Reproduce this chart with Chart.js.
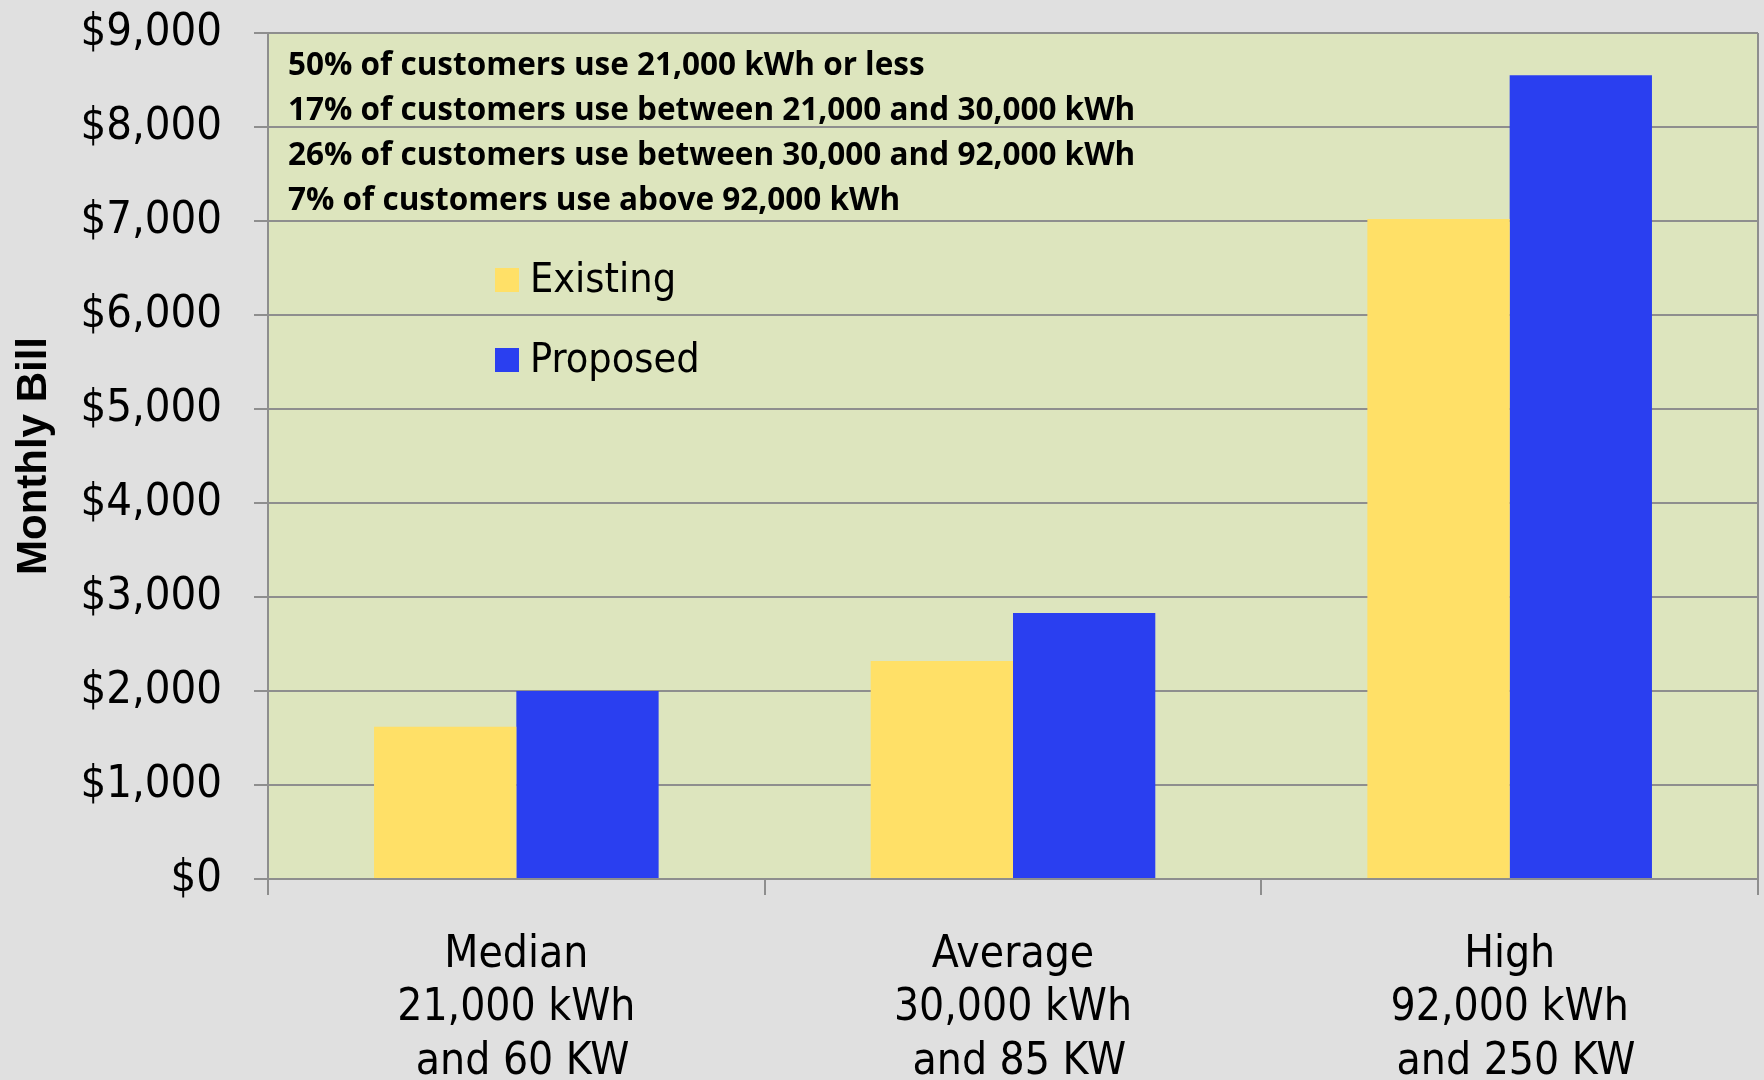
<!DOCTYPE html>
<html>
<head>
<meta charset="utf-8">
<script src="https://cdn.jsdelivr.net/npm/chart.js@4"></script>
<style>
  html, body { margin: 0; padding: 0; background: #e0e0e0; }
  #wrap { width: 1764px; height: 1080px; }
</style>
</head>
<body>
<div id="wrap"><canvas id="bill-chart" width="1764" height="1080"></canvas></div>
<script>
// Chart data
const categories = [
    ["Median", "21,000 kWh", " and 60 KW"],
    ["Average", "30,000 kWh", " and 85 KW"],
    ["High", "92,000 kWh", " and 250 KW"]
];
const existing = [1620, 2320, 7020];
const proposed = [2000, 2830, 8550];
const seriesNames = ["Existing", "Proposed"];
const notes = [
    "50% of customers use 21,000 kWh or less",
    "17% of customers use between 21,000 and 30,000 kWh",
    "26% of customers use between 30,000 and 92,000 kWh",
    "7% of customers use above 92,000 kWh"
];

const gridColor = "#8e8e8e";
const tickFont = "'DejaVu Sans Condensed', 'DejaVu Sans', sans-serif";

// Page + plot area background, right border
const plotBackground = {
    id: "plotBackground",
    beforeDraw(chart) {
        const { ctx, chartArea: a } = chart;
        ctx.save();
        ctx.fillStyle = "#e0e0e0";
        ctx.fillRect(0, 0, chart.width, chart.height);
        ctx.fillStyle = "#dde5be";
        ctx.fillRect(a.left, a.top, a.right - a.left, a.bottom - a.top);
        ctx.restore();
    },
    afterDraw(chart) {
        const { ctx, chartArea: a } = chart;
        ctx.save();
        ctx.strokeStyle = gridColor;
        ctx.lineWidth = 2;
        ctx.beginPath();
        ctx.moveTo(a.right, a.top);
        ctx.lineTo(a.right, a.bottom + 16);
        ctx.stroke();
        ctx.restore();
    }
};

// Notes text and legend inside the plot
const notesAndLegend = {
    id: "notesAndLegend",
    afterDatasetsDraw(chart) {
        const { ctx } = chart;
        ctx.save();
        ctx.fillStyle = "#000";
        ctx.textBaseline = "middle";
        ctx.font = "bold 31.5px 'Open Sans', sans-serif";
        notes.forEach((line, i) => {
            ctx.fillText(line, 288, 66 + i * 45);
        });

        ctx.font = "41px " + tickFont;
        chart.data.datasets.forEach((ds, i) => {
            const y = 280 + i * 80;
            ctx.fillStyle = ds.backgroundColor;
            ctx.fillRect(495, y - 12, 24, 24);
            ctx.fillStyle = "#000";
            ctx.fillText(ds.label, 530, y + 1);
        });
        ctx.restore();
    }
};

const billChart = new Chart("bill-chart", {
    type: "bar",
    data: {
        labels: categories,
        datasets: [
            {
                label: seriesNames[0],
                backgroundColor: "#ffe067",
                data: existing
            },
            {
                label: seriesNames[1],
                backgroundColor: "#2a3ff0",
                data: proposed
            }
        ]
    },
    options: {
        responsive: false,
        animation: false,
        layout: {
            padding: { top: 33, right: 6, left: 0, bottom: 0 }
        },
        datasets: {
            bar: {
                categoryPercentage: 0.573,
                barPercentage: 1.0,
                borderWidth: 0
            }
        },
        scales: {
            x: {
                afterFit(scale) { scale.height = 201; },
                grid: {
                    offset: true,
                    drawOnChartArea: false,
                    drawTicks: true,
                    tickLength: 16,
                    color: gridColor,
                    lineWidth: 2
                },
                border: { display: true, color: gridColor, width: 2 },
                ticks: {
                    color: "#000",
                    padding: 34,
                    maxRotation: 0,
                    font: { family: tickFont, size: 44, lineHeight: 1.21 }
                }
            },
            y: {
                min: 0,
                max: 9000,
                afterFit(scale) {
                    scale.width = 268;
                    scale.paddingTop = 0;
                    scale.paddingBottom = 0;
                },
                grid: {
                    color: gridColor,
                    lineWidth: 2,
                    tickLength: 14
                },
                border: { display: true, color: gridColor, width: 2 },
                ticks: {
                    stepSize: 1000,
                    color: "#000",
                    padding: 32,
                    font: { family: tickFont, size: 45 },
                    callback: (value) => "$" + value.toLocaleString("en-US")
                },
                title: {
                    display: true,
                    text: "Monthly Bill",
                    color: "#000",
                    padding: { top: 9, bottom: 0 },
                    font: { family: "'Liberation Sans', Arial, sans-serif", size: 42, weight: "bold" }
                }
            }
        },
        plugins: {
            legend: { display: false },
            tooltip: { enabled: false }
        }
    },
    plugins: [plotBackground, notesAndLegend]
});
</script>
</body>
</html>
